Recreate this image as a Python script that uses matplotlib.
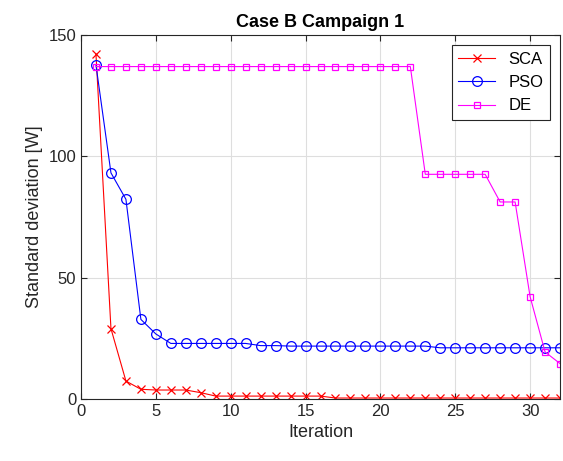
import numpy as np
import matplotlib
matplotlib.use('Agg')
from matplotlib import pyplot as plt

plt.rcParams['font.family'] = ['Liberation Sans', 'DejaVu Sans']

iteration = np.arange(1, 33)
sca = [142, 29, 7.4, 4.0, 3.7, 3.7, 3.7, 2.6, 1.2, 1.2, 1.2, 1.2, 1.2, 1.2, 1.2, 1.2,
       0.4, 0.4, 0.4, 0.4, 0.4, 0.4, 0.4, 0.4, 0.4, 0.4, 0.4, 0.4, 0.4, 0.4, 0.4, 0.4]
pso = [137.6, 93.2, 82.3, 32.8, 26.8, 22.9, 22.9, 22.9, 22.9, 22.9, 22.9, 22.0, 22.0,
       21.8, 21.8, 21.8, 21.8, 21.8, 21.8, 21.8, 21.8, 21.8, 21.8, 21.1, 21.1, 21.1,
       21.1, 21.1, 21.1, 21.1, 21.1, 21.1]
de = [137] * 22 + [92.6] * 5 + [81.2, 81.2, 42.2, 19.4, 14.6]

fig = plt.figure(figsize=(5.63, 4.61), dpi=100)
ax = fig.add_axes([0.1439, 0.1345, 0.8508, 0.7895])

ax.plot(iteration, sca, '-x', color='#ff0000', lw=0.8, ms=6, mew=0.9, label='SCA')
ax.plot(iteration, pso, '-o', color='#0000ff', lw=0.8, ms=7, mew=0.9, mfc='none', label='PSO')
ax.plot(iteration, de, '-s', color='#ff00ff', lw=0.8, ms=5, mew=0.9, mfc='none', label='DE')

ax.set_xlim(0, 32)
ax.set_ylim(0, 150)
ax.set_xticks(np.arange(0, 31, 5))
ax.set_yticks([0, 50, 100, 150])
ax.grid(True, color='0.87', lw=0.8)
ax.set_axisbelow(True)
ax.tick_params(direction='in', top=True, right=True, labelsize=12, colors='0.15', length=4)
for s in ax.spines.values():
    s.set_color('0.15')
    s.set_linewidth(0.8)

ax.set_xlabel('Iteration', fontsize=13, color='0.15')
ax.set_ylabel('Standard deviation [W]', fontsize=13, color='0.15')
ax.set_title('Case B Campaign 1', fontsize=13, fontweight='bold', pad=6)

leg = ax.legend(loc='upper right', fontsize=12, fancybox=False, framealpha=1,
                edgecolor='0.15', handlelength=2.2, borderaxespad=0.6)
leg.get_frame().set_linewidth(0.8)

fig.savefig('out.png', dpi=100)
